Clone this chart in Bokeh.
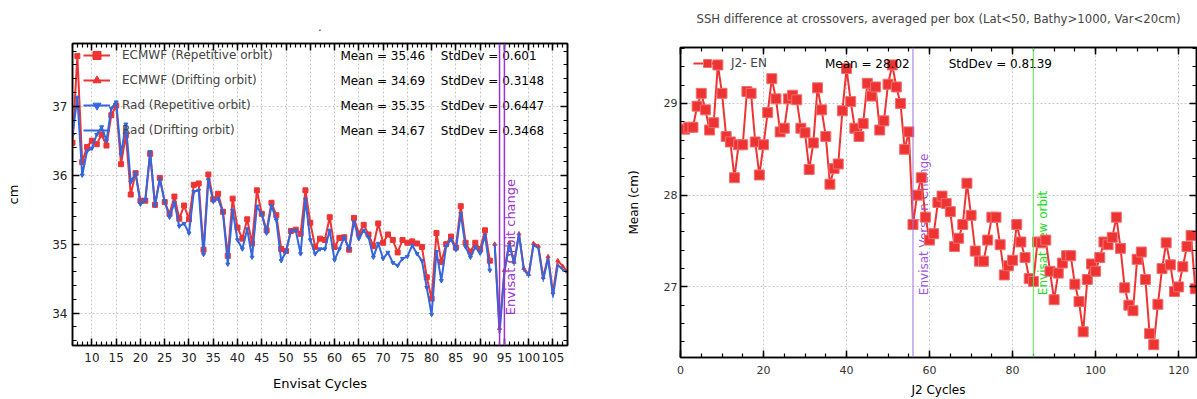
import math
from bokeh.plotting import figure
from bokeh.layouts import row, column
from bokeh.models import (Range1d, SingleIntervalTicker, LinearAxis, Span, Legend,
                          LegendItem, ColumnDataSource, CustomJSTickFormatter)
from bokeh.core.properties import value
from bokeh.embed import file_html
from bokeh.resources import INLINE

FONT = "DejaVu Sans"
RED = "#ee3333"
BLUE = "#3466dd"
PURPLE = "#9933cc"
PURPLE2 = "#a070e0"
GREEN = "#55ee55"

# ---------------- Left chart data (Envisat cycles) ----------------
rep_cycles = list(range(6, 93))
ecmwf_rep = [36.47, 37.73, 36.19, 36.41, 36.50, 36.45, 36.59, 36.43, 36.87, 37.01,
             36.16, 36.58, 35.72, 36.03, 35.63, 35.63, 36.31, 35.57, 35.96, 35.61,
             35.44, 35.69, 35.37, 35.56, 35.36, 35.86, 35.88, 34.92, 36.01, 35.65,
             35.73, 35.47, 34.83, 35.66, 35.24, 35.08, 35.36, 35.01, 35.78, 35.44,
             35.20, 35.60, 35.42, 34.93, 34.90, 35.19, 35.21, 35.15, 35.78, 35.31,
             34.96, 35.08, 35.06, 35.39, 34.96, 35.09, 35.10, 34.92, 35.38, 35.15,
             35.28, 35.14, 34.97, 35.30, 35.02, 35.14, 35.06, 34.88, 35.06, 35.02,
             35.04, 35.01, 34.96, 34.52, 34.21, 35.16, 34.74, 35.00, 35.11, 34.95,
             35.55, 35.02, 34.89, 35.02, 34.93, 35.20, 34.76]
rad_rep = [36.58, 37.13, 36.00, 36.35, 36.39, 36.59, 36.70, 36.50, 36.97, 37.06,
           36.30, 36.74, 35.90, 36.03, 35.58, 35.64, 36.34, 35.56, 35.94, 35.62,
           35.39, 35.60, 35.26, 35.30, 35.16, 35.76, 35.78, 34.85, 35.93, 35.62,
           35.66, 35.46, 34.71, 35.49, 35.06, 34.93, 35.22, 34.81, 35.55, 35.43,
           35.16, 35.56, 35.35, 34.76, 34.89, 35.19, 35.20, 34.86, 35.65, 35.06,
           34.86, 34.93, 34.93, 35.20, 34.77, 34.93, 35.10, 34.93, 35.32, 35.08,
           35.20, 35.10, 34.81, 35.01, 34.79, 34.88, 34.73, 34.69, 34.79, 34.82,
           34.98, 34.86, 34.76, 34.37, 33.98, 34.89, 34.47, 34.97, 35.07, 34.92,
           35.44, 34.96, 34.81, 34.96, 34.87, 35.13, 34.62]
drift_cycles = list(range(93, 109))
ecmwf_drift = [35.00, 33.78, 34.62, 35.02, 34.74, 35.15, 34.65, 34.56, 35.01, 34.97,
               34.52, 34.82, 34.30, 34.76, 34.68, 34.60]
rad_drift = [34.99, 33.71, 34.59, 35.01, 34.71, 35.15, 34.63, 34.54, 34.99, 34.94,
             34.48, 34.80, 34.24, 34.70, 34.63, 34.60]
left_names = ["ECMWF (Repetitive orbit)", "ECMWF (Drifting orbit)",
              "Rad (Repetitive orbit)", "Rad (Drifting orbit)"]
left_means = ["Mean = 35.46", "Mean = 34.69", "Mean = 35.35", "Mean = 34.67"]
left_stds = ["StdDev = 0.601", "StdDev = 0.3148", "StdDev = 0.6447", "StdDev = 0.3468"]
left_stat_y = [37.73, 37.37, 37.0, 36.64]
orbit_change = [94, 95]

# ---------------- Right chart data (J2 cycles) ----------------
j2_cycles = list(range(1, 125))
j2_en = [28.72, 28.74, 28.74, 28.97, 29.11, 28.93, 28.71, 28.79, 29.42, 29.11,
         28.64, 28.58, 28.19, 28.55, 28.55, 29.13, 29.11, 28.58, 28.22, 28.55,
         28.90, 29.27, 29.05, 28.69, 28.73, 29.05, 29.09, 29.04, 28.73, 28.68,
         28.28, 28.57, 29.17, 28.93, 28.64, 28.12, 28.29, 28.34, 28.92, 29.38,
         29.02, 28.73, 28.64, 28.78, 29.22, 29.08, 29.18, 28.71, 28.81, 29.21,
         29.42, 29.18, 29.00, 28.50, 28.69, 27.68, 28.00, 28.19, 27.76, 27.51,
         27.58, 27.92, 27.99, 27.91, 27.82, 27.44, 27.53, 27.68, 28.13, 27.78,
         27.39, 27.28, 27.28, 27.51, 27.76, 27.76, 27.46, 27.13, 27.23, 27.29,
         27.68, 27.49, 27.32, 27.09, 27.06, 27.49, 27.48, 27.51, 27.17, 26.86,
         27.15, 27.26, 27.34, 27.34, 27.03, 26.84, 26.51, 27.08, 27.25, 27.17,
         27.32, 27.49, 27.46, 27.54, 27.76, 27.42, 26.99, 26.80, 26.74, 27.30,
         27.38, 27.08, 26.49, 26.37, 26.81, 27.20, 27.48, 27.24, 26.95, 27.00,
         27.22, 27.44, 27.56, 26.98]
version_change = 56
new_orbit = 85
right_title = "SSH difference at crossovers, averaged per box (Lat<50, Bathy>1000, Var<20cm)"


def style(p, xticker, yticker, lab_size, lab_color):
    xa, ya = p.xaxis[0], p.yaxis[0]
    for ax in (xa, ya):
        ax.axis_line_color = "black"
        ax.axis_line_width = 1.5
        ax.major_tick_in = 7
        ax.major_tick_out = 0
        ax.minor_tick_in = 4
        ax.minor_tick_out = 0
        ax.major_tick_line_color = "black"
        ax.minor_tick_line_color = "black"
        ax.major_tick_line_width = 1.5
        ax.minor_tick_line_width = 1.2
        ax.major_label_text_font = FONT
        ax.major_label_text_font_size = lab_size
        ax.major_label_text_color = lab_color
        ax.axis_label_text_font = FONT
        ax.axis_label_text_font_style = "normal"
        ax.axis_label_text_color = "black"
    xa.ticker = xticker
    ya.ticker = yticker
    p.grid.grid_line_color = "#c8c8c8"
    p.grid.grid_line_dash = "2 2"
    p.grid.grid_line_width = 1
    p.xgrid[0].ticker = xticker
    p.ygrid[0].ticker = yticker
    p.outline_line_color = "black"
    p.outline_line_width = 1.5
    for loc, tk in (("above", xticker), ("right", yticker)):
        ax = LinearAxis(ticker=tk, formatter=CustomJSTickFormatter(code="return ''"),
                        major_label_text_font_size="1px", major_label_standoff=0,
                        major_tick_in=7, major_tick_out=0, minor_tick_in=4, minor_tick_out=0,
                        axis_line_color="black", axis_line_width=1.5,
                        major_tick_line_width=1.5, minor_tick_line_width=1.2)
        p.add_layout(ax, loc)
    return xa, ya


# ---------------- Left figure ----------------
p1 = figure(width=600, height=399, x_range=Range1d(6, 108), y_range=Range1d(33.53, 37.91),
            output_backend="svg", toolbar_location=None, title=".",
            min_border_left=72, min_border_right=33, min_border_top=43, min_border_bottom=54)
p1.title.align = "center"
p1.title.text_font = FONT
p1.title.text_font_size = "12px"
p1.title.text_font_style = "normal"
p1.title.standoff = 25
xa1, ya1 = style(p1, SingleIntervalTicker(interval=5, num_minor_ticks=5),
                 SingleIntervalTicker(interval=1, num_minor_ticks=5), "12px", "#222222")
xa1.axis_label = "Envisat Cycles"
xa1.axis_label_text_font_size = "13px"
xa1.major_label_standoff = 7
xa1.axis_label_standoff = 11
ya1.axis_label = "cm"
ya1.axis_label_text_font_size = "13px"
ya1.major_label_standoff = 5
ya1.axis_label_standoff = 28

for loc in orbit_change:
    p1.add_layout(Span(location=loc, dimension="height", line_color=PURPLE, line_width=1.5))
p1.text(x=[96.2], y=[33.97], text=["Envisat Orbit change"], angle=math.pi / 2,
        text_align="left", text_baseline="middle", text_color=PURPLE,
        text_font=value(FONT), text_font_size="13px")

l1 = p1.line(rep_cycles, ecmwf_rep, line_color=RED, line_width=2)
m1 = p1.scatter(rep_cycles, ecmwf_rep, marker="square", size=5, color=RED)
l2 = p1.line(drift_cycles, ecmwf_drift, line_color=RED, line_width=2)
m2 = p1.scatter(drift_cycles, ecmwf_drift, marker="triangle", size=4, color=RED)
l3 = p1.line(rep_cycles, rad_rep, line_color=BLUE, line_width=2)
m3 = p1.scatter(rep_cycles, rad_rep, marker="inverted_triangle", size=4, color=BLUE)
l4 = p1.line(drift_cycles, rad_drift, line_color=BLUE, line_width=2)
m4 = p1.scatter(drift_cycles, rad_drift, marker="dash", size=4, color=BLUE, angle=math.pi / 2)

leg1 = Legend(items=[LegendItem(label=left_names[0], renderers=[l1, m1]),
                     LegendItem(label=left_names[1], renderers=[l2, m2]),
                     LegendItem(label=left_names[2], renderers=[l3, m3]),
                     LegendItem(label=left_names[3], renderers=[l4, m4])],
              location=(11, 205), padding=0, margin=0, spacing=5,
              glyph_width=27, glyph_height=20, label_height=20, label_standoff=12,
              label_text_font=FONT, label_text_font_size="12px",
              border_line_color=None, background_fill_alpha=0)
p1.add_layout(leg1, "center")

stat_src = ColumnDataSource(dict(xm=[61.2] * 4, xs=[81.9] * 4, y=left_stat_y,
                                 mean=left_means, std=left_stds))
p1.text(x="xm", y="y", text="mean", source=stat_src, text_baseline="middle",
        text_font=value(FONT), text_font_size="12px", text_color="black")
p1.text(x="xs", y="y", text="std", source=stat_src, text_baseline="middle",
        text_font=value(FONT), text_font_size="12px", text_color="black")

# ---------------- Right figure ----------------
p2 = figure(width=597, height=399, x_range=Range1d(0, 124.3), y_range=Range1d(26.23, 29.61),
            output_backend="svg", toolbar_location=None, title=right_title + "\n ",
            min_border_left=80, min_border_right=1, min_border_top=47, min_border_bottom=42)
p2.title.align = "center"
p2.title.vertical_align = "top"
p2.title.text_font = FONT
p2.title.text_font_size = "11.7px"
p2.title.text_font_style = "normal"
p2.title.standoff = 12
xa2, ya2 = style(p2, SingleIntervalTicker(interval=20, num_minor_ticks=4),
                 SingleIntervalTicker(interval=1, num_minor_ticks=5), "11px", "#333333")
xa2.axis_label = "J2 Cycles"
xa2.axis_label_text_font_size = "12px"
xa2.major_label_standoff = 8
xa2.axis_label_standoff = 6
ya2.axis_label = "Mean (cm)"
ya2.axis_label_text_font_size = "12px"
ya2.major_label_standoff = 3
ya2.axis_label_standoff = 20

p2.add_layout(Span(location=version_change, dimension="height", line_color=PURPLE2, line_width=1))
p2.add_layout(Span(location=new_orbit, dimension="height", line_color=GREEN, line_width=1))
p2.text(x=[58.65], y=[26.91], text=["Envisat Version Change"], angle=math.pi / 2,
        text_align="left", text_baseline="middle", text_color="#9a55dd",
        text_font=value(FONT), text_font_size="12px")
p2.text(x=[87.4], y=[26.91], text=["Envisat new orbit"], angle=math.pi / 2,
        text_align="left", text_baseline="middle", text_color="#22dd22",
        text_font=value(FONT), text_font_size="12px")

r_l = p2.line(j2_cycles, j2_en, line_color=RED, line_width=2)
r_m = p2.scatter(j2_cycles, j2_en, marker="square", size=10, fill_color=RED,
                 line_color="#f07070", line_width=1)
leg2 = Legend(items=[LegendItem(label="J2- EN", renderers=[r_l, r_m])],
              location=(13, 284), padding=0, margin=0,
              glyph_width=28, glyph_height=20, label_height=20, label_standoff=10,
              label_text_font=FONT, label_text_font_size="12px",
              border_line_color=None, background_fill_alpha=0)
p2.add_layout(leg2, "center")
p2.text(x=[34.8], y=[29.43], text=["Mean = 28.02"], text_baseline="middle",
        text_font=value(FONT), text_font_size="12px", text_color="black")
p2.text(x=[64.6], y=[29.43], text=["StdDev = 0.8139"], text_baseline="middle",
        text_font=value(FONT), text_font_size="12px", text_color="black")

layout = row(p1, column(p2))
open("out.html", "w").write(file_html(layout, INLINE))
